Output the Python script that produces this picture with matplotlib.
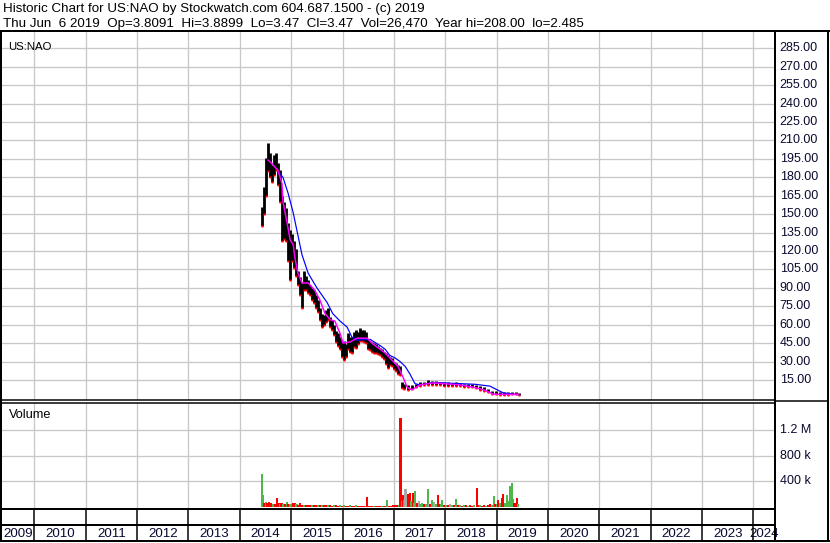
"""Stockwatch-style historic chart for US:NAO (price bars + moving averages + volume)."""
import matplotlib
matplotlib.use("Agg")
import matplotlib.pyplot as plt
from matplotlib.lines import Line2D

plt.rcParams["font.family"] = ["Liberation Sans", "DejaVu Sans"]

TITLE_1 = "Historic Chart for US:NAO by Stockwatch.com 604.687.1500 - (c) 2019"
TITLE_2 = "Thu Jun  6 2019  Op=3.8091  Hi=3.8899  Lo=3.47  Cl=3.47  Vol=26,470  Year hi=208.00  lo=2.485"
SYMBOL = "US:NAO"

# ---- price bars (decimal year, high, low) ---------------------------------
bar_dates = [
    2014.43, 2014.47, 2014.51, 2014.55, 2014.59, 2014.63, 2014.67, 2014.71, 2014.74, 2014.78,
    2014.82, 2014.86, 2014.90, 2014.94, 2014.98, 2015.02, 2015.06, 2015.09, 2015.13, 2015.17,
    2015.21, 2015.25, 2015.29, 2015.33, 2015.37, 2015.41, 2015.45, 2015.48, 2015.52, 2015.56,
    2015.60, 2015.64, 2015.68, 2015.72, 2015.76, 2015.80, 2015.83, 2015.87, 2015.91, 2015.95,
    2015.99, 2016.03, 2016.07, 2016.11, 2016.15, 2016.18, 2016.22, 2016.26, 2016.30, 2016.34,
    2016.38, 2016.42, 2016.46, 2016.50, 2016.54, 2016.57, 2016.61, 2016.65, 2016.69, 2016.73,
    2016.77, 2016.81, 2016.85, 2016.89, 2016.92, 2016.96, 2017.00, 2017.04, 2017.08, 2017.12,
    2017.16, 2017.20, 2017.28, 2017.35, 2017.43, 2017.51, 2017.59, 2017.66, 2017.74, 2017.82,
    2017.90, 2017.98, 2018.05, 2018.13, 2018.21, 2018.29, 2018.37, 2018.44, 2018.52, 2018.60,
    2018.68, 2018.76, 2018.83, 2018.91, 2018.99, 2019.07, 2019.14, 2019.22, 2019.30, 2019.38,
    2019.43,
]
bar_high = [
    156, 172, 196, 208, 200, 190, 198, 200, 192, 186,
    165, 160, 155, 143, 137, 134, 128, 122, 104, 99,
    94, 104, 100, 96, 92, 90, 88, 84, 80, 74,
    69, 68, 72, 74, 66, 64, 60, 55, 53, 50,
    46, 47, 44, 53, 50, 50, 54, 56, 54, 57,
    56, 56, 54, 48, 47, 46, 45, 44, 43, 41,
    40, 38, 37, 35, 34, 33, 30, 29, 27, 26,
    13, 12, 11, 11, 12, 13, 13, 15, 14.5, 14,
    13.5, 13, 13, 12.5, 13, 12.5, 12, 12, 12, 11,
    10, 9, 8, 6, 6, 5.5, 5, 5, 5.5, 5,
    4,
]
bar_low = [
    140, 150, 165, 185, 180, 176, 182, 186, 174, 160,
    128, 130, 128, 112, 96, 112, 106, 100, 92, 84,
    74, 88, 88, 86, 84, 80, 78, 74, 70, 64,
    58, 60, 62, 64, 58, 56, 52, 46, 43, 40,
    34, 31, 34, 40, 38, 37, 42, 41, 44, 47,
    47, 46, 45, 40, 39, 38, 37, 37, 36, 35,
    34, 32, 28, 25, 27, 26, 24, 22, 20, 19,
    8.5, 8, 7, 7.5, 9, 10, 11, 11, 11, 11,
    11, 10.5, 10, 10, 10, 10, 9.5, 9.5, 9, 8.5,
    7, 6, 5, 3.5, 3.5, 3, 3, 3, 3.5, 3.5,
    3,
]

# ---- moving averages -------------------------------------------------------
ma_short_dates = [
    2014.55, 2014.63, 2014.69, 2014.74, 2014.82, 2014.84, 2014.92, 2014.98, 2015.04, 2015.07,
    2015.13, 2015.21, 2015.33, 2015.46, 2015.56, 2015.66, 2015.76, 2015.85, 2015.95, 2016.01,
    2016.15, 2016.28, 2016.48, 2016.57, 2016.73, 2016.83, 2016.92, 2017.08, 2017.18, 2017.26,
    2017.35, 2017.51, 2017.76, 2018.29, 2018.62, 2018.78, 2018.93, 2019.16, 2019.42,
]
ma_short = [
    194, 191, 188, 186, 175, 160, 143, 129, 125, 115,
    102, 94, 94, 88, 80, 69, 64, 63, 53, 45,
    46, 49, 49, 45, 40, 37, 33, 26, 17, 9,
    7, 11, 12.6, 11, 8.5, 6.5, 3.5, 3.2, 3.3,
]
ma_long_dates = [
    2014.74, 2014.84, 2014.94, 2015.04, 2015.11, 2015.21, 2015.33, 2015.50, 2015.70, 2015.81,
    2015.95, 2016.09, 2016.18, 2016.28, 2016.54, 2016.73, 2016.83, 2016.92, 2017.02, 2017.12,
    2017.22, 2017.31, 2017.41, 2017.51, 2017.76, 2018.29, 2018.58, 2018.87, 2019.01, 2019.13,
    2019.26, 2019.42,
]
ma_long = [
    185, 180, 167, 151, 137, 117, 102, 90, 78, 69,
    63, 58, 50, 47.5, 48, 43, 40, 35, 33, 30,
    26, 20, 12, 11, 13, 12, 11.5, 10, 7, 4.5,
    3.8, 3,
]

# ---- volume (decimal year, shares in k, up/down/unchanged) -----------------
vol_dates = [
    2014.426, 2014.451, 2014.481, 2014.510, 2014.539, 2014.568, 2014.607, 2014.646, 2014.685, 2014.724,
    2014.753, 2014.782, 2014.812, 2014.841, 2014.880, 2014.919, 2014.948, 2014.977, 2015.016, 2015.045,
    2015.074, 2015.104, 2015.133, 2015.172, 2015.211, 2015.250, 2015.289, 2015.328, 2015.367, 2015.406,
    2015.445, 2015.484, 2015.522, 2015.561, 2015.600, 2015.639, 2015.678, 2015.717, 2015.756, 2015.795,
    2015.834, 2015.873, 2015.912, 2015.951, 2015.990, 2016.029, 2016.068, 2016.107, 2016.145, 2016.184,
    2016.223, 2016.262, 2016.301, 2016.340, 2016.379, 2016.418, 2016.457, 2016.477, 2016.496, 2016.535,
    2016.574, 2016.613, 2016.652, 2016.691, 2016.730, 2016.768, 2016.807, 2016.846, 2016.866, 2016.905,
    2016.944, 2016.983, 2017.022, 2017.061, 2017.100, 2017.129, 2017.158, 2017.178, 2017.207, 2017.226,
    2017.255, 2017.284, 2017.314, 2017.343, 2017.366, 2017.392, 2017.417, 2017.450, 2017.489, 2017.518,
    2017.547, 2017.586, 2017.625, 2017.658, 2017.684, 2017.713, 2017.742, 2017.781, 2017.820, 2017.853,
    2017.888, 2017.917, 2017.937, 2017.976, 2018.015, 2018.054, 2018.093, 2018.131, 2018.170, 2018.209,
    2018.248, 2018.287, 2018.326, 2018.365, 2018.404, 2018.443, 2018.482, 2018.521, 2018.560, 2018.612,
    2018.647, 2018.676, 2018.715, 2018.754, 2018.793, 2018.832, 2018.871, 2018.910, 2018.949, 2018.978,
    2019.007, 2019.027, 2019.066, 2019.099, 2019.124, 2019.163, 2019.196, 2019.231, 2019.261, 2019.294,
    2019.319, 2019.348, 2019.391, 2019.417,
]
vol_k = [
    519, 182, 60, 75, 60, 78, 60, 50, 55, 145,
    60, 45, 60, 40, 55, 80, 50, 45, 40, 70,
    60, 40, 35, 60, 30, 25, 25, 25, 25, 30,
    25, 30, 25, 30, 25, 30, 25, 30, 25, 20,
    30, 25, 20, 35, 20, 25, 20, 20, 25, 20,
    20, 25, 20, 20, 15, 20, 20, 155, 20, 20,
    15, 20, 20, 15, 20, 20, 20, 20, 114, 20,
    20, 25, 25, 30, 25, 1390, 90, 182, 110, 285,
    180, 207, 223, 90, 220, 60, 254, 70, 90, 40,
    65, 45, 40, 285, 50, 45, 114, 75, 50, 182,
    40, 40, 103, 35, 25, 30, 50, 30, 25, 130,
    30, 25, 20, 30, 25, 20, 25, 20, 25, 301,
    30, 25, 20, 30, 20, 25, 40, 30, 171, 45,
    40, 104, 60, 145, 207, 70, 182, 100, 322, 379,
    130, 60, 145, 40,
]
vol_dir = [
    "g", "g", "r", "g", "r", "r", "r", "g", "r", "r",
    "r", "g", "r", "g", "r", "g", "r", "g", "g", "r",
    "r", "g", "r", "r", "r", "g", "r", "r", "r", "g",
    "r", "r", "g", "r", "g", "r", "r", "g", "r", "r",
    "g", "r", "r", "g", "r", "g", "r", "r", "g", "r",
    "r", "g", "r", "r", "r", "r", "g", "r", "r", "r",
    "r", "g", "r", "r", "r", "g", "r", "r", "g", "r",
    "r", "r", "r", "r", "g", "r", "g", "r", "g", "n",
    "n", "r", "r", "g", "r", "g", "g", "r", "n", "g",
    "g", "r", "g", "g", "n", "r", "g", "n", "g", "r",
    "r", "g", "g", "r", "g", "r", "n", "g", "r", "g",
    "r", "g", "r", "g", "r", "g", "r", "r", "g", "r",
    "r", "g", "r", "r", "g", "r", "r", "g", "g", "r",
    "g", "r", "g", "r", "r", "g", "g", "g", "g", "g",
    "g", "r", "r", "g",
]

price_ticks = [15, 30, 45, 60, 75, 90, 105, 120, 135, 150, 165, 180, 195,
               210, 225, 240, 255, 270, 285]
vol_ticks = [400_000, 800_000, 1_200_000]
vol_tick_labels = ["400 k", "800 k", "1.2 M"]
years = list(range(2009, 2025))

W, H = 830, 543
X0, X1 = 2009.35, 2024.42
GRID = "#c8c8c8"
INK = "#0a0a30"
DIR_COLORS = {"g": "#4cb84c", "r": "#ff0000", "n": "#a8a8a8"}
PX = 0.72  # one pixel in points at dpi 100


def rect(x0, y0, x1, y1):
    return [x0 / W, 1 - y1 / H, (x1 - x0) / W, (y1 - y0) / H]


def fig_line(fig, xs, ys, lw=2):
    fig.add_artist(Line2D([x / W for x in xs], [1 - y / H for y in ys],
                          transform=fig.transFigure, color="black",
                          linewidth=lw * PX, solid_capstyle="butt"))


def bare(ax):
    ax.set_xlim(X0, X1)
    for s in ax.spines.values():
        s.set_visible(False)
    ax.set_xticks([]); ax.set_yticks([])
    ax.patch.set_alpha(0)


def right_label(ax, y, text, size=9):
    ax.annotate(text, xy=(X1, y), xytext=(3.4, 0), textcoords="offset points",
                ha="left", va="center", fontsize=size, color=INK,
                annotation_clip=False)


fig = plt.figure(figsize=(W / 100, H / 100), dpi=100)

# ---- price panel ----
ax_p = fig.add_axes(rect(1, 31, 775, 400))
bare(ax_p)
ax_p.set_ylim(-1.3, 299.1)
for y in years[1:]:
    ax_p.axvline(y, color=GRID, lw=PX * 1.3, zorder=0)
for t in price_ticks:
    ax_p.axhline(t, color=GRID, lw=PX * 1.3, zorder=0)
ax_p.vlines(bar_dates, bar_low, bar_high, color="black", lw=2.8 * PX, zorder=2)
ax_p.plot(bar_dates, bar_low, ls="none", marker="s", ms=1.6,
          mec="none", color="#ff0000", zorder=3)
ax_p.plot(ma_long_dates, ma_long, color="#0000ff", lw=1.2 * PX, zorder=4)
ax_p.plot(ma_short_dates, ma_short, color="#ff00ff", lw=1.5 * PX, zorder=4)
for t in price_ticks:
    right_label(ax_p, t, f"{t:.2f}")
ax_p.text(2009.49, 286.3, SYMBOL, ha="left", va="center", fontsize=8.2)

# ---- volume panel ----
ax_v = fig.add_axes(rect(1, 403, 775, 508))
bare(ax_v)
ax_v.set_ylim(-15_000, 1_625_000)
for y in years[1:]:
    ax_v.axvline(y, color=GRID, lw=PX * 1.3, zorder=0)
for t in vol_ticks:
    ax_v.axhline(t, color=GRID, lw=PX * 1.3, zorder=0)
ax_v.bar(vol_dates, [v * 1000 for v in vol_k], width=0.045,
         color=[DIR_COLORS[d] for d in vol_dir], linewidth=0, zorder=2)
for t, lab in zip(vol_ticks, vol_tick_labels):
    right_label(ax_v, t, lab)
ax_v.text(2009.50, 1_440_000, "Volume", ha="left", va="center", fontsize=9.2)

# ---- year label row ----
ax_y = fig.add_axes(rect(1, 525, 775, 541))
bare(ax_y)
ax_y.set_ylim(0, 1)
for y in years:
    lo, hi = max(y, X0), min(y + 1, X1)
    ax_y.text((lo + hi) / 2, 0.45, str(y), ha="center", va="center",
              fontsize=9.6, color=INK, clip_on=False)

# ---- frame lines ----
fig_line(fig, [0, 830], [31, 31])
fig_line(fig, [1, 775], [399.5, 399.5], 1.5)
fig_line(fig, [1, 775], [402.5, 402.5], 1.5)
fig_line(fig, [775, 828], [401, 401], 1.5)
fig_line(fig, [1, 775], [508.5, 508.5])
fig_line(fig, [1, 775], [524.5, 524.5])
fig_line(fig, [0, 830], [541, 541])
fig_line(fig, [1, 1], [31, 541])
fig_line(fig, [775, 775], [31, 541])
fig_line(fig, [828, 828], [31, 541])
for y in years[1:]:
    xp = 1 + (y - X0) / (X1 - X0) * 774
    fig_line(fig, [xp, xp], [508.5, 541], 1.5)

# ---- header ----
fig.text(3 / W, 1 - 12 / H, TITLE_1, ha="left", va="baseline", fontsize=9.6)
fig.text(3 / W, 1 - 27.3 / H, TITLE_2, ha="left", va="baseline", fontsize=9.6)

fig.savefig("out.png", dpi=100)
